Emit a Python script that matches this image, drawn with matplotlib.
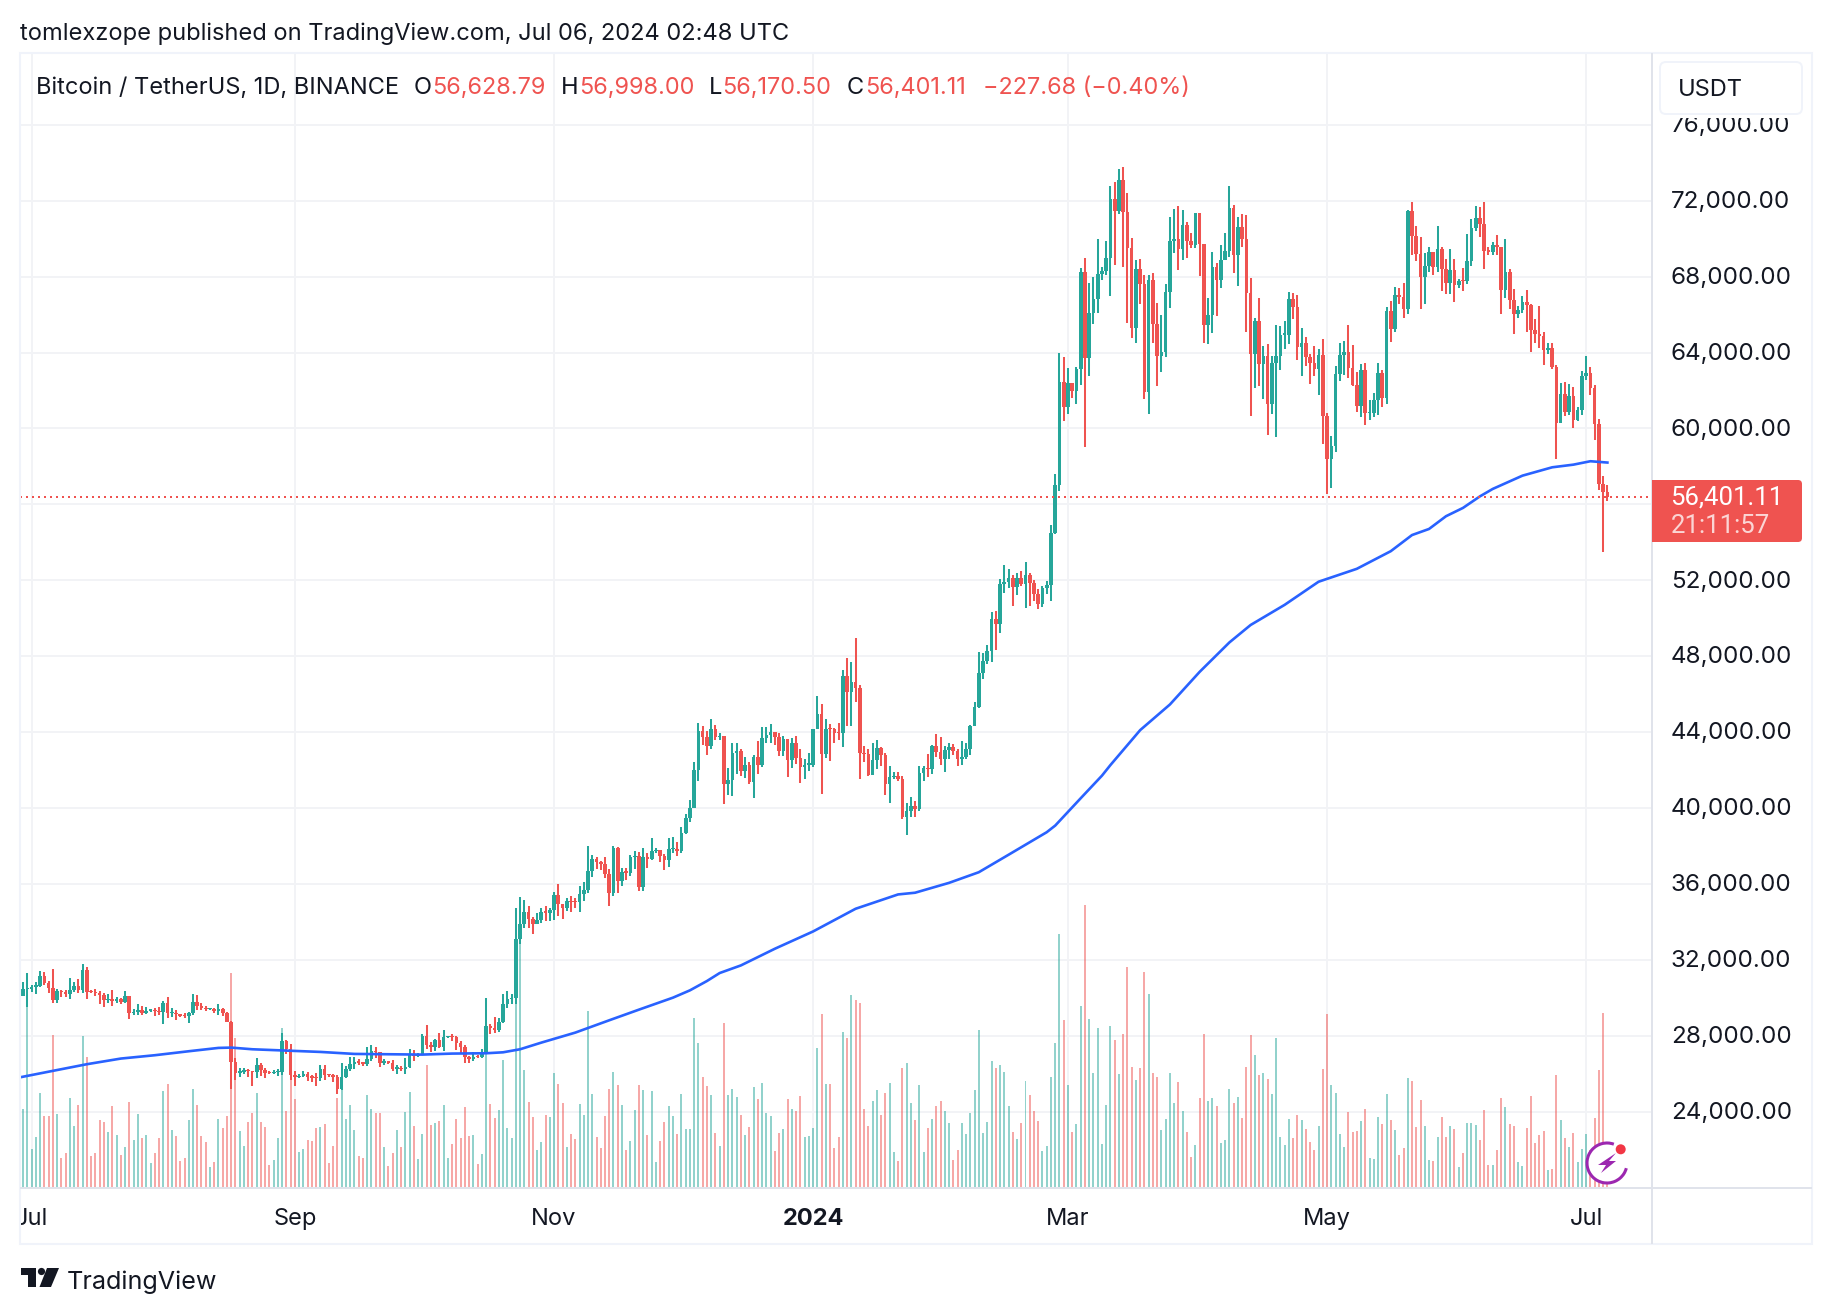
import pandas as pd
import matplotlib
matplotlib.use('Agg')
import matplotlib.pyplot as plt
import matplotlib.dates as mdates
from matplotlib.patches import Rectangle, FancyBboxPatch, Polygon, Circle, Arc
from matplotlib.transforms import Affine2D, ScaledTranslation

plt.rcParams['font.family'] = ['Inter', 'DejaVu Sans']

# Daily candles, 28 Jun 2023 to 6 Jul 2024
dates = pd.date_range('2023-06-28', '2024-07-06', freq='D')

opens = [
    30700, 30080, 30445,
    30472, 30585, 30617, 31156, 30767, 30514, 29895, 30348, 30292, 30171, 30414, 30620, 30380, 31454, 30312, 30289, 30231, 30139, 29859, 29909, 29800, 29909, 29792, 30083, 29176, 29228, 29352, 29215, 29315, 29357, 29278,
    29230, 29705, 29186, 29193, 29113, 29042, 29041, 29180, 29765, 29561, 29429, 29397, 29415, 29283, 29408, 29170, 28701, 26622, 26048, 26100, 26189, 26126, 26056, 26432, 26163, 26047, 26004, 26089, 26106, 27728, 27300,
    25940, 25800, 25869, 25971, 25826, 25792, 25759, 26255, 25910, 25901, 25841, 25162, 25840, 26222, 26522, 26601, 26568, 26530, 26762, 27210, 27125, 26568, 26580, 26579, 26256, 26299, 26215, 26352, 27021, 26906,
    26962, 27983, 27494, 27426, 27778, 27410, 27931, 27956, 27917, 27590, 27390, 26875, 26756, 26862, 26852, 27150, 28500, 28395, 28320, 28713, 29669, 29909, 29992, 33086, 33901, 34496, 34151, 33892, 34081, 34525, 34474,
    34639, 35421, 34941, 34732, 35082, 35049, 35037, 35443, 35655, 36693, 37313, 37138, 37054, 36502, 35537, 37880, 36154, 36596, 36585, 37387, 37476, 35813, 37432, 37289, 37720, 37796, 37479, 37254, 37831, 37858,
    37712, 38688, 39476, 39978, 41991, 44073, 43762, 43273, 44170, 43713, 43789, 41253, 41492, 42869, 43022, 41940, 42278, 41374, 42657, 42275, 43668, 43861, 43997, 43739, 43016, 43613, 42520, 43442, 42627, 42142, 42283,
    42284, 44180, 44946, 42845, 44151, 44146, 43968, 43929, 46951, 46110, 46632, 46314, 42893, 42842, 41732, 42511, 43137, 42776, 41262, 41618, 41665, 41545, 39507, 39845, 40077, 39933, 41816, 42120, 42035, 43288, 42952,
    42582, 43075, 43185, 42992, 42583, 42658, 43084, 44318, 45301, 47132, 47751, 48293, 49958, 49699, 51795, 51880, 52124, 51642, 52137, 51774, 52258, 51849, 51288, 50744, 51568, 51729, 54476, 57037, 62432,
    61130, 62387, 61987, 63113, 68245, 63724, 66074, 66823, 68124, 68313, 68955, 72078, 71452, 73072, 71388, 69499, 65300, 68393, 67609, 61937, 67840, 65501, 63796, 64037, 67211, 69880, 69987, 69455, 70744, 69892, 69645,
    71333, 69702, 65446, 65980, 68508, 67837, 68896, 69360, 71620, 69146, 70631, 70006, 67116, 63924, 65661, 63419, 63793, 61277, 63470, 63818, 64941, 64941, 66819, 66414, 64289, 64498, 63770, 63461, 63118, 63866,
    60672, 58364, 59060, 62882, 63892, 64012, 63165, 62312, 61193, 63074, 60799, 60825, 61483, 62940, 61577, 66206, 65235, 67024, 66915, 66274, 71446, 70148, 69166, 67969, 68549, 69290, 68507, 69436, 68398, 67652, 68352,
    67540, 67766, 67765, 68809, 70567, 71082, 70757, 69355, 69310, 69648, 69540, 67314, 68263, 66773, 66043, 66228, 66676, 66504, 65175, 64974, 64869, 64143, 64262, 63210, 60293, 61806, 60864, 61706, 60427, 60986,
    62772, 62899, 62135, 60208, 57050, 56628.79,
]
closes = [
    30080, 30445, 30472,
    30585, 30617, 31156, 30767, 30514, 29895, 30348, 30292, 30171, 30414, 30620, 30380, 31454, 30312, 30289, 30231, 30139, 29859, 29909, 29800, 29909, 29792, 30083, 29176, 29228, 29352, 29215, 29315, 29357, 29278, 29230,
    29705, 29186, 29193, 29113, 29042, 29041, 29180, 29765, 29561, 29429, 29397, 29415, 29283, 29408, 29170, 28701, 26622, 26048, 26100, 26189, 26126, 26056, 26432, 26163, 26047, 26004, 26089, 26106, 27728, 27300, 25940,
    25800, 25869, 25971, 25826, 25792, 25759, 26255, 25910, 25901, 25841, 25162, 25840, 26222, 26522, 26601, 26568, 26530, 26762, 27210, 27125, 26568, 26580, 26579, 26256, 26299, 26215, 26352, 27021, 26906, 26962,
    27983, 27494, 27426, 27778, 27410, 27931, 27956, 27917, 27590, 27390, 26875, 26756, 26862, 26852, 27150, 28500, 28395, 28320, 28713, 29669, 29909, 29992, 33086, 33901, 34496, 34151, 33892, 34081, 34525, 34474, 34639,
    35421, 34941, 34732, 35082, 35049, 35037, 35443, 35655, 36693, 37313, 37138, 37054, 36502, 35537, 37880, 36154, 36596, 36585, 37387, 37476, 35813, 37432, 37289, 37720, 37796, 37479, 37254, 37831, 37858, 37712,
    38688, 39476, 39978, 41991, 44073, 43762, 43273, 44170, 43713, 43789, 41253, 41492, 42869, 43022, 41940, 42278, 41374, 42657, 42275, 43668, 43861, 43997, 43739, 43016, 43613, 42520, 43442, 42627, 42142, 42283, 42284,
    44180, 44946, 42845, 44151, 44146, 43968, 43929, 46951, 46110, 46632, 46314, 42893, 42842, 41732, 42511, 43137, 42776, 41262, 41618, 41665, 41545, 39507, 39845, 40077, 39933, 41816, 42120, 42035, 43288, 42952, 42582,
    43075, 43185, 42992, 42583, 42658, 43084, 44318, 45301, 47132, 47751, 48293, 49958, 49699, 51795, 51880, 52124, 51642, 52137, 51774, 52258, 51849, 51288, 50744, 51568, 51729, 54476, 57037, 62432, 61130,
    62387, 61987, 63113, 68245, 63724, 66074, 66823, 68124, 68313, 68955, 72078, 71452, 73072, 71388, 69499, 65300, 68393, 67609, 61937, 67840, 65501, 63796, 64037, 67211, 69880, 69987, 69455, 70744, 69892, 69645, 71333,
    69702, 65446, 65980, 68508, 67837, 68896, 69360, 71620, 69146, 70631, 70006, 67116, 63924, 65661, 63419, 63793, 61277, 63470, 63818, 64941, 64941, 66819, 66414, 64289, 64498, 63770, 63461, 63118, 63866, 60672,
    58364, 59060, 62882, 63892, 64012, 63165, 62312, 61193, 63074, 60799, 60825, 61483, 62940, 61577, 66206, 65235, 67024, 66915, 66274, 71446, 70148, 69166, 67969, 68549, 69290, 68507, 69436, 68398, 67652, 68352, 67540,
    67766, 67765, 68809, 70567, 71082, 70757, 69355, 69310, 69648, 69540, 67314, 68263, 66773, 66043, 66228, 66676, 66504, 65175, 64974, 64869, 64143, 64262, 63210, 60293, 61806, 60864, 61706, 60427, 60986, 62772,
    62899, 62135, 60208, 57050, 56628.79, 56401.11,
]
highs = [
    30740, 30830, 31282,
    30650, 30800, 31380, 31350, 30880, 31500, 30445, 30390, 30420, 31030, 30800, 31000, 31800, 31630, 30400, 30440, 30340, 30240, 30190, 30410, 30060, 29990, 30360, 30110, 29380, 29690, 29570, 29530, 29410, 29450, 29530,
    29800, 30050, 29433, 29333, 29120, 29180, 29244, 30200, 30130, 29700, 29560, 29470, 29450, 29660, 29480, 29230, 28780, 26840, 26300, 26300, 26260, 26135, 26800, 26560, 26300, 26110, 26170, 26250, 28142, 27760, 27575,
    26125, 25980, 26121, 26100, 25900, 26020, 26450, 26445, 25945, 25979, 25900, 26567, 26400, 26860, 26888, 26777, 26625, 27409, 27490, 27375, 27159, 26743, 26634, 26738, 26429, 26380, 26839, 27300, 27225, 27087,
    28065, 28580, 27670, 27830, 28120, 28285, 28000, 28100, 27990, 27740, 27480, 26950, 27130, 26980, 27290, 30000, 28620, 28990, 28930, 30207, 30375, 30200, 34741, 35280, 35132, 34824, 34245, 34481, 34750, 34856, 34720,
    35580, 35965, 34950, 35260, 35380, 35270, 35890, 36100, 37972, 37530, 37400, 37200, 37423, 36770, 37980, 37930, 36848, 36845, 37500, 37750, 37650, 37900, 37600, 38400, 37890, 37800, 37590, 38420, 38450, 38180,
    38999, 39700, 40400, 42400, 44490, 44300, 44050, 44700, 44366, 43950, 43800, 42100, 43430, 43420, 43085, 42700, 42400, 42765, 43500, 44283, 44240, 44400, 43820, 43946, 43810, 43650, 43700, 43800, 43100, 42600, 42900,
    44180, 45900, 45500, 44700, 44400, 44230, 44500, 47250, 47890, 47700, 48969, 46500, 43260, 43080, 43400, 43578, 43200, 42900, 42200, 41870, 41870, 41660, 40280, 40550, 40350, 42230, 42200, 42840, 43300, 43880, 43740,
    43280, 43400, 43380, 43120, 43540, 43400, 44380, 45600, 48200, 48170, 48590, 50330, 50370, 52043, 52816, 52575, 52250, 52370, 52485, 52985, 52370, 52000, 51550, 51700, 51960, 54900, 57588, 64000, 63750,
    63200, 62400, 63230, 68440, 69000, 67637, 67980, 70000, 68520, 69870, 72800, 72960, 73650, 73777, 72400, 70030, 68870, 68930, 68090, 68090, 68200, 66620, 65970, 67600, 71140, 71560, 71700, 71500, 70880, 70300, 71350,
    71350, 69680, 66880, 69300, 68720, 69670, 70300, 72770, 71760, 71140, 71300, 71230, 67930, 65830, 66870, 64350, 64460, 63820, 65450, 65400, 65670, 67200, 67150, 67040, 65300, 64830, 63930, 64350, 64200, 64720,
    60830, 59600, 63300, 64510, 64620, 65460, 64400, 62980, 63400, 63460, 61510, 61880, 63460, 63090, 66400, 66720, 67460, 67400, 67670, 71500, 71930, 70670, 70090, 69250, 69560, 69220, 70670, 69560, 68930, 69460, 68930,
    67880, 68450, 70250, 71030, 71720, 71670, 71950, 69560, 69830, 70200, 69560, 69980, 68400, 67350, 66460, 67000, 67300, 66550, 65750, 66450, 65100, 64500, 64520, 63350, 62400, 62450, 62350, 62180, 61130, 63030,
    63820, 63250, 62290, 60500, 57500, 56998.00,
]
lows = [
    29950, 30070, 29500,
    30320, 30200, 30580, 30650, 30220, 29700, 29710, 30040, 30060, 29950, 30300, 30250, 30250, 29950, 30250, 30090, 29660, 29525, 29740, 29560, 29720, 29640, 29720, 28860, 29060, 29110, 29060, 29120, 29250, 29030, 29100,
    28630, 28950, 28958, 28809, 28956, 28950, 28650, 29110, 29350, 29330, 29300, 29350, 29210, 29100, 29050, 28700, 25210, 25650, 25800, 25990, 25812, 25350, 25790, 25850, 25770, 25970, 25965, 25860, 25922, 27020, 25655,
    25333, 25750, 25817, 25634, 25565, 25365, 25611, 25640, 25800, 25550, 24901, 25131, 25770, 26126, 26224, 26445, 26400, 26377, 26667, 26800, 26361, 26468, 26509, 26122, 25990, 26111, 26000, 26300, 26667, 26887,
    26954, 27280, 27160, 27210, 27340, 27175, 27860, 27700, 27260, 27100, 26560, 26560, 26680, 26800, 26800, 27110, 28080, 28130, 28170, 28670, 29470, 29670, 29660, 32850, 33690, 33690, 33340, 33860, 33930, 34062, 34050,
    34100, 34300, 34140, 34580, 34520, 34740, 34520, 35110, 35534, 36340, 36760, 36750, 36300, 34840, 35360, 35500, 35900, 36200, 36400, 36800, 35630, 35600, 36840, 37270, 37600, 37150, 36710, 36870, 37600, 37450,
    37600, 38650, 39280, 39980, 41420, 43330, 42800, 43080, 43580, 43580, 40222, 40680, 40650, 41810, 41666, 41600, 41250, 40530, 41800, 42180, 43400, 43400, 43300, 42750, 42720, 41630, 42110, 42300, 41300, 41520, 41965,
    42180, 44150, 40750, 42620, 42450, 43400, 43570, 43200, 44300, 44300, 45600, 41500, 42440, 41700, 41720, 42050, 42200, 40670, 40280, 41500, 41400, 39430, 38555, 39500, 39500, 39820, 41400, 41620, 41800, 42700, 42270,
    41880, 42600, 42800, 42222, 42260, 42570, 42790, 44300, 45240, 46800, 47560, 47710, 48300, 49225, 51315, 51570, 50625, 51200, 51700, 50520, 50625, 50880, 50500, 50580, 51280, 50900, 54450, 56700, 60364,
    60777, 61600, 61300, 62300, 59005, 62787, 65500, 66100, 67830, 68100, 67000, 68620, 71300, 68500, 65560, 64770, 64500, 66570, 61560, 60780, 64500, 62250, 62980, 63780, 66350, 69240, 68350, 68880, 68980, 69500, 69500,
    68030, 64500, 64460, 65040, 65930, 67400, 68850, 69030, 68200, 67500, 69560, 65090, 60670, 62140, 62250, 61560, 59670, 60770, 59560, 63090, 64190, 64460, 65770, 63620, 62770, 63300, 62350, 62770, 61770, 59200,
    56560, 56880, 58770, 62510, 62830, 62670, 62250, 60880, 60620, 60200, 60460, 60620, 60720, 61140, 61300, 64560, 65090, 66560, 65820, 66040, 69140, 68830, 66300, 66560, 68250, 68090, 68250, 67250, 67090, 67090, 66680,
    67400, 67250, 67600, 68580, 70400, 70090, 68400, 69130, 69130, 69130, 66040, 66880, 66300, 65000, 65820, 66100, 65090, 64030, 64500, 64240, 63340, 63930, 63140, 58400, 60700, 60650, 60700, 60040, 60400, 60730,
    62530, 61770, 59400, 56780, 53500, 56170.50,
]
# volume, in units of 200 BTC
volumes = [
    200, 234, 564,
    114, 150, 282, 213, 213, 456, 219, 87, 102, 267, 183, 246, 453, 390, 93, 102, 201, 195, 165, 243, 156, 96, 120, 255, 141, 219, 147, 156, 72, 102, 147,
    288, 309, 171, 153, 78, 87, 201, 294, 246, 153, 135, 60, 75, 204, 177, 213, 642, 447, 168, 123, 195, 222, 282, 195, 180, 66, 81, 147, 477, 228, 351,
    264, 105, 114, 141, 138, 177, 180, 189, 72, 123, 267, 290, 204, 246, 171, 93, 87, 276, 234, 222, 222, 120, 63, 102, 171, 120, 225, 285, 183, 84,
    159, 366, 186, 192, 198, 246, 87, 129, 204, 147, 240, 153, 156, 69, 99, 501, 249, 207, 231, 381, 177, 147, 680, 732, 351, 255, 210, 111, 135, 216,
    210, 342, 309, 252, 120, 159, 144, 249, 216, 528, 279, 150, 117, 213, 294, 345, 306, 246, 111, 138, 231, 306, 291, 156, 288, 75, 138, 195, 243, 213,
    159, 279, 174, 174, 507, 432, 330, 303, 276, 162, 123, 492, 276, 294, 270, 216, 156, 180, 300, 264, 312, 222, 213, 108, 162, 174, 264, 234, 228, 273, 150,
    153, 177, 417, 519, 309, 309, 117, 150, 465, 447, 576, 561, 552, 234, 183, 258, 291, 216, 282, 312, 105, 78, 357, 372, 252, 201, 306, 105, 177, 204,
    243, 258, 228, 192, 81, 111, 192, 159, 222, 291, 471, 162, 195, 378, 357, 366, 345, 243, 165, 144, 192, 318, 276, 228, 198, 108, 123, 330, 432,
    759, 501, 306, 165, 189, 543, 846, 504, 342, 477, 129, 246, 483, 441, 339, 459, 660, 360, 321, 357, 645, 579, 342, 330, 171, 204, 342, 252, 315, 228, 165,
    90, 126, 267, 459, 258, 267, 243, 132, 141, 294, 252, 270, 207, 360, 456, 396, 336, 342, 324, 279, 447, 150, 126, 204, 147, 216, 201, 174, 135, 111,
    183, 354, 519, 306, 282, 159, 120, 225, 165, 168, 198, 234, 87, 84, 210, 189, 279, 201, 171, 96, 117, 327, 318, 180, 261, 183, 81, 78, 150, 210, 150,
    183, 174, 60, 102, 192, 192, 186, 141, 231, 66, 66, 111, 267, 240, 189, 183, 75, 63, 177, 273, 132, 156, 168, 51, 54, 336, 201, 147, 120, 162, 75,
    113, 158, 110, 206, 350, 521, 8,
]
# 200-day moving average, days counted from 1 Jul 2023
ma_days = [-3, 5, 13, 21, 29, 37, 44, 47, 52, 60, 68, 76, 84, 92, 99, 107, 111, 115, 120, 128, 136, 143, 151, 155, 159, 162, 167,
           175, 184, 194, 204, 208, 216, 223, 230, 239, 241, 247, 252, 254, 261, 268, 275, 282, 287, 295, 303, 312, 320, 325,
           329, 333, 337, 341, 344, 351, 358, 363, 367, 371]
ma_values = [25790, 26142, 26492, 26790, 26966, 27176, 27352, 27368, 27280, 27210, 27140, 27035, 27018, 27000, 27053, 27070, 27120, 27280, 27630, 28158, 28808, 29369, 30000, 30386, 30877, 31298, 31700,
             32579, 33490, 34685, 35440, 35530, 36050, 36610, 37530, 38720, 39070, 40510, 41700, 42260, 44100, 45450, 47170, 48720, 49640, 50700, 51920, 52600, 53530, 54380,
             54700, 55372, 55810, 56420, 56810, 57510, 57950, 58090, 58270, 58200]

price_ticks = [24000, 28000, 32000, 36000, 40000, 44000, 48000, 52000, 56000, 60000, 64000, 68000, 72000, 76000]
month_ticks = ['2023-07-01', '2023-09-01', '2023-11-01', '2024-01-01', '2024-03-01', '2024-05-01', '2024-07-01']
month_labels = ['Jul', 'Sep', 'Nov', '2024', 'Mar', 'May', 'Jul']

W, H = 1832, 1314
UP, DOWN, TEXT = '#26A69A', '#EF5350', '#131722'
GRID, FRAME, AXIS = '#F2F3F6', '#F0F3FA', '#E0E3EB'

df = pd.DataFrame({'open': opens, 'high': highs, 'low': lows, 'close': closes, 'volume': volumes}, index=dates)
x = mdates.date2num(df.index)
start = mdates.date2num(pd.Timestamp('2023-07-01'))
colors = [UP if c >= o else DOWN for o, c in zip(df['open'], df['close'])]

fig = plt.figure(figsize=(W / 100, H / 100), dpi=100, facecolor='white')
rect = [20 / W, 1 - 1188 / H, (1652 - 20) / W, (1188 - 53) / H]

# three stacked axes: grid and labels, then volume, then candles
ax_grid = fig.add_axes(rect, zorder=1)
ax_vol = fig.add_axes(rect, zorder=2)
ax = fig.add_axes(rect, zorder=3)

xlim = (start - 2.73, start + 381.5)
ylim = (19969, 79784)
for a in (ax_grid, ax_vol, ax):
    a.set_xlim(xlim)
    for s in a.spines.values():
        s.set_visible(False)
ax_vol.patch.set_visible(False)
ax.patch.set_visible(False)
ax_vol.set_xticks([])
ax_vol.set_yticks([])
ax.set_xticks([])
ax.set_yticks([])

ax_grid.set_ylim(ylim)
ax.set_ylim(ylim)
ax_vol.set_ylim(-3, 3402)

ax_grid.yaxis.tick_right()
ax_grid.set_yticks(price_ticks)
# the 56,000 label sits behind the last price tag
ax_grid.set_yticklabels(['' if p == 56000 else f'{p:,.2f}' for p in price_ticks])
ax_grid.set_xticks(mdates.date2num(pd.to_datetime(month_ticks)))
ax_grid.set_xticklabels(month_labels)
ax_grid.tick_params(axis='y', length=0, pad=13.5, labelsize=17.4, labelcolor=TEXT)
ax_grid.tick_params(axis='x', length=0, pad=14.5, labelsize=17, labelcolor=TEXT)
up_a_bit = ScaledTranslation(0, 1.2 / 100, fig.dpi_scale_trans)
for lab in ax_grid.get_yticklabels():
    lab.set_transform(lab.get_transform() + up_a_bit)
for lab in ax_grid.get_xticklabels():
    if lab.get_text() == '2024':
        lab.set_fontweight('bold')
ax_grid.grid(True, color=GRID, linewidth=1.44)

# volume
ax_vol.bar(x, df['volume'], width=0.47, color=colors, alpha=0.5, linewidth=0)

# candles
ax.vlines(x, df['low'], df['high'], colors=colors, linewidth=1.45)
body_low = df[['open', 'close']].min(axis=1)
body_h = (df['close'] - df['open']).abs().clip(lower=70)
ax.bar(x, body_h, bottom=body_low, width=0.85, color=colors, linewidth=0)

# moving average and last price line
ax.plot(start + pd.Series(ma_days), ma_values, color='#2962FF', linewidth=1.9, solid_joinstyle='round')
ax.axhline(closes[-1], color=DOWN, linewidth=1.44, linestyle=(0, (1, 2)))


# everything else sits in figure pixels, y going down
px = Affine2D().scale(1 / W, -1 / H).translate(0, 1) + fig.transFigure


def add(patch, z=6):
    patch.set_transform(px)
    patch.set_zorder(z)
    fig.add_artist(patch)
    return patch


def label(xp, yp, s, color=TEXT, size=17, **kw):
    fig.text(xp / W, 1 - yp / H, s, color=color, fontsize=size, va='center', zorder=9, **kw)


# the first Jul label is cut by the frame
add(Rectangle((0, 1195), 20, 45, fc='white', ec='none'), 4)

# frame and axis separators
add(Rectangle((20, 53), 1792, 1191, fc='none', ec=FRAME, lw=1.5), 5)
add(Rectangle((1651, 53), 2.2, 1191, fc=AXIS, ec='none'), 5)
add(Rectangle((20, 1187), 1792, 2.2, fc=AXIS, ec='none'), 5)

# currency button, covers the top of the 76,000 label
add(Rectangle((1654, 55), 156, 63, fc='white', ec='none'), 6)
add(FancyBboxPatch((1660, 62), 142, 52, boxstyle='round,pad=0,rounding_size=6', fc='white', ec=FRAME, lw=1.4), 7)
label(1678, 90, 'USDT', size=17)

# last price tag
add(FancyBboxPatch((1652, 480), 150, 62, boxstyle='round,pad=0,rounding_size=4', fc=DOWN, ec='none'), 7)
add(Rectangle((1652, 480), 10, 62, fc=DOWN, ec='none'), 7)
label(1670.5, 497, f'{closes[-1]:,.2f}', color='white', size=18.5, family='Roboto')
label(1670.5, 526, '21:11:57', color='#FBD5D4', size=18.5, family='Roboto')

# header and legend
label(20, 34, 'tomlexzope published on TradingView.com, Jul 06, 2024 02:48 UTC', size=17)
label(36, 88, 'Bitcoin / TetherUS, 1D, BINANCE', size=17)
for xp, s in [(414, 'O'), (561, 'H'), (709, 'L'), (847, 'C')]:
    label(xp, 88, s, size=17)
for xp, s in [(432, '56,628.79'), (579, '56,998.00'), (722, '56,170.50'), (865, '56,401.11'),
              (983, '\u2212227.68 (\u22120.40%)')]:
    label(xp, 88, s, color=DOWN, size=16.9)

# TradingView logo
add(Polygon([(20.5, 1268), (35.5, 1268), (35.5, 1287), (27.5, 1287), (27.5, 1275), (20.5, 1275)], fc=TEXT, ec='none'))
add(Circle((41.5, 1271.5), 3.6, fc=TEXT, ec='none'))
add(Polygon([(47, 1268), (59, 1268), (51, 1287), (39.5, 1287)], fc=TEXT, ec='none'))
label(66.5, 1282, 'TradingView', size=18.1)

# lightning badge
add(Circle((1607, 1163), 21, fc='white', ec='none'), 7)
add(Arc((1607, 1163), 40, 40, theta1=-345, theta2=-70, ec='#9C27B0', lw=2.2), 8)
add(Polygon([(1616, 1153), (1598, 1165), (1606, 1165), (1601, 1173), (1616, 1161), (1609, 1161)], fc='#9C27B0', ec='none'), 8)
add(Circle((1620.7, 1149.3), 6.5, fc='white', ec='none'), 8)
add(Circle((1620.7, 1149.3), 5, fc='#F23645', ec='none'), 9)

fig.savefig('out.png', dpi=100)
